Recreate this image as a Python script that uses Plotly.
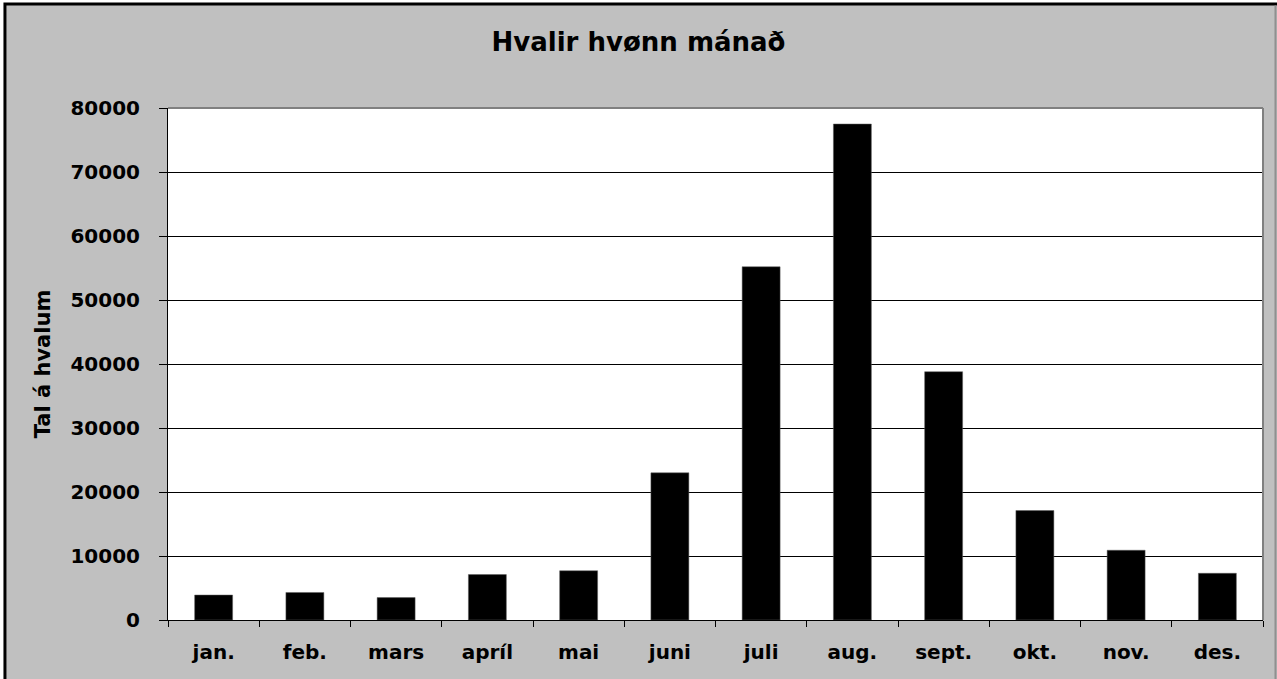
import plotly.graph_objects as go

months = ['jan.', 'feb.', 'mars', 'apríl', 'mai', 'juni',
          'juli', 'aug.', 'sept.', 'okt.', 'nov.', 'des.']
whales = [3900, 4300, 3500, 7100, 7700, 23000,
          55200, 77500, 38800, 17100, 10900, 7300]
y_ticks = list(range(0, 80001, 10000))

FONT = 'DejaVu Sans'

fig = go.Figure()
fig.add_trace(go.Bar(
    x=months,
    y=whales,
    marker=dict(color='black', line=dict(color='#606060', width=0.5)),
    hoverinfo='x+y',
))

# grey chart area with black frame, white plot area, grey top/right edge
shapes = [
    dict(type='rect', xref='paper', yref='paper', layer='below',
         x0=-0.1489, x1=1.03, y0=-0.2, y1=1.203,
         fillcolor='#C0C0C0', line=dict(color='black', width=3)),
    dict(type='rect', xref='paper', yref='paper', layer='below',
         x0=0, x1=1, y0=0, y1=1,
         fillcolor='white', line=dict(width=0)),
    dict(type='line', xref='paper', yref='paper', x0=1.0114, x1=1.0114, y0=1.2, y1=-0.2,
         line=dict(color='#909090', width=2)),
    dict(type='line', xref='paper', yref='paper', x0=0, x1=1, y0=1, y1=1,
         line=dict(color='#808080', width=2)),
    dict(type='line', xref='paper', yref='paper', x0=1, x1=1, y0=0, y1=1,
         line=dict(color='#808080', width=2)),
]

fig.update_layout(
    width=1277,
    height=679,
    margin=dict(l=168, r=14, t=108, b=59),
    paper_bgcolor='white',
    plot_bgcolor='rgba(0,0,0,0)',
    showlegend=False,
    bargap=0.584,
    title=dict(text='<b>Hvalir hvønn mánað</b>', x=0.5, xanchor='center',
               y=1 - 42 / 679, yanchor='middle', yref='container',
               font=dict(family=FONT, size=26, color='black')),
    font=dict(family=FONT, color='black'),
    shapes=shapes,
)

fig.update_xaxes(
    showline=True, linecolor='black', linewidth=1,
    ticks='outside', tickson='boundaries', ticklen=6, tickcolor='black',
    ticklabelstandoff=14,
    tickfont=dict(family=FONT, size=20, color='black', weight='bold'),
    showgrid=False,
)

fig.update_yaxes(
    range=[0, 80000],
    tickvals=y_ticks,
    ticktext=[str(v) for v in y_ticks],
    showline=True, linecolor='black', linewidth=1,
    ticks='outside', ticklen=8, tickcolor='black',
    ticklabelstandoff=15,
    tickfont=dict(family=FONT, size=20, color='black', weight='bold'),
    showgrid=True, gridcolor='black', gridwidth=1,
    zeroline=False,
    title=dict(text='<b>Tal á hvalum</b>', standoff=14,
               font=dict(family=FONT, size=21, color='black')),
)

fig.write_html('out.html', config={'displayModeBar': False},
               post_script="document.body.style.margin='0';")
